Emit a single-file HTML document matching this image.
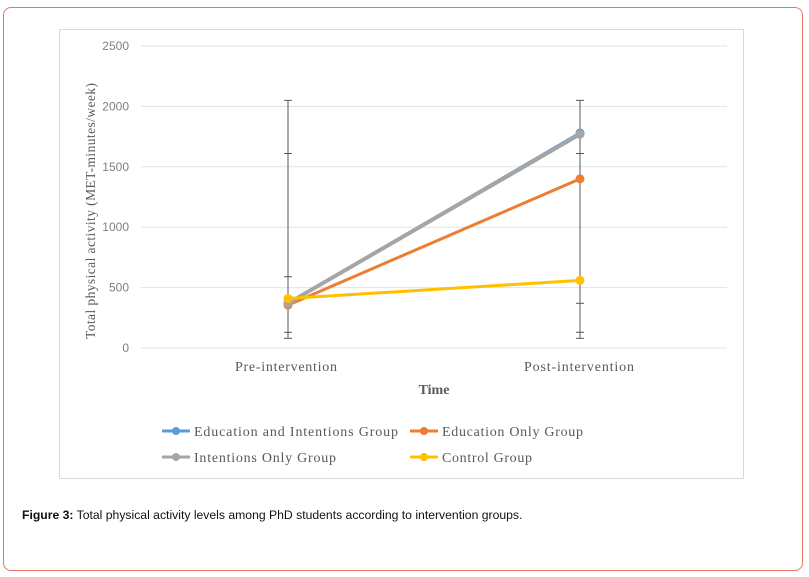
<!DOCTYPE html>
<html><head><meta charset="utf-8"><style>
body{margin:0;background:#fff;width:809px;height:577px;overflow:hidden;font-family:"Liberation Sans",sans-serif}
#outer{position:absolute;left:3px;top:7px;width:800px;height:564px;border:1px solid #e8756a;border-radius:8px;box-sizing:border-box}
#cap{position:absolute;left:22px;top:508px;font-size:12.2px;color:#111}
</style></head><body>
<div id="outer"></div>
<svg width="809" height="577" style="position:absolute;left:0;top:0">
<rect x="59.5" y="29.5" width="684" height="449" fill="#fff" stroke="#d9d9d9"/>
<g id="grid"></g><g id="err"></g><g id="series"></g>
<text x="0" y="0" transform="translate(95,211) rotate(-90)" text-anchor="middle" font-family="Liberation Serif,serif" font-size="13.5" fill="#595959" textLength="256" lengthAdjust="spacing">Total physical activity (MET-minutes/week)</text>
<text x="434" y="394" text-anchor="middle" font-family="Liberation Serif,serif" font-size="14" font-weight="bold" fill="#595959">Time</text>
<g id="legend" font-family="Liberation Serif,serif" font-size="14" fill="#595959"></g>
</svg>
<div id="cap"><b>Figure 3:</b> Total physical activity levels among PhD students according to intervention groups.</div>
<script>
const categories=["Pre-intervention","Post-intervention"];
const yTicks=[0,500,1000,1500,2000,2500];
const eduIntent=[370,1780];
const eduOnly=[355,1400];
const intentOnly=[370,1770];
const control=[410,560];
const errTop=[2050,2050];
const errBottom=[80,80];
const errTicksPre=[1610,590,130];
const errTicksPost=[1610,370,130];
const names=["Education and Intentions Group","Education Only Group","Intentions Only Group","Control Group"];
const colors=["#5b9bd5","#ed7d31","#a5a5a5","#ffc000"];
const NS="http://www.w3.org/2000/svg";
const y=v=>348-v*(302/2500);
const x=i=>288+i*292;
function mk(t,a,p){const e=document.createElementNS(NS,t);for(const k in a)e.setAttribute(k,a[k]);p.appendChild(e);return e;}
const g=document.getElementById('grid');
yTicks.forEach(v=>{
 const l=mk('line',{x1:141,x2:727,y1:y(v),y2:y(v),stroke:'#e3e3e3','stroke-width':1},g);
 
 
 const t=mk('text',{x:129,y:y(v)+4,'text-anchor':'end','font-size':12,fill:'#7f7f7f'},g);
 t.textContent=v;
 
 
});
categories.forEach((c,i)=>{
 const t=mk('text',{x:x(i)-(i?1:2),y:371,'text-anchor':'middle','font-size':14,fill:'#595959','font-family':'Liberation Serif,serif',textLength:(i?110:102),lengthAdjust:'spacing'},g);
 t.textContent=c;
 
 
});
const eg=document.getElementById('err');
[errTicksPre,errTicksPost].forEach((tk,i)=>{
 const l=mk('line',{x1:x(i),x2:x(i),y1:y(errTop[i]),y2:y(errBottom[i]),stroke:'#595959','stroke-width':1},eg);
 
 
 [errTop[i],errBottom[i]].concat(tk).forEach(v=>{
  const c=mk('line',{x1:x(i)-4,x2:x(i)+4,y1:y(v),y2:y(v),stroke:'#595959','stroke-width':1},eg);
  
  
 });
});
const sg=document.getElementById('series');
const data=[eduIntent,eduOnly,intentOnly,control];
const widths=[3,3,4,3];
data.forEach((d,s)=>{
 const pl=mk('polyline',{points:d.map((v,i)=>x(i)+','+y(v)).join(' '),fill:'none',stroke:colors[s],'stroke-width':widths[s]},sg);
 
 
 d.forEach((v,i)=>{
  const c=mk('circle',{cx:x(i),cy:y(v),r:4.5,fill:colors[s]},sg);
  
  
 });
});
const lg=document.getElementById('legend');
const lpos=[[162,431],[410,431],[162,457],[410,457]];
const lw=[204,141,142,90];
names.forEach((n,s)=>{
 const [lx,ly]=lpos[s];
 const l=mk('line',{x1:lx,x2:lx+28,y1:ly,y2:ly,stroke:colors[s],'stroke-width':3},lg);
 
 
 const c=mk('circle',{cx:lx+14,cy:ly,r:4,fill:colors[s]},lg);
 
 
 const t=mk('text',{x:lx+32,y:ly+5,textLength:lw[s],lengthAdjust:'spacing'},lg);
 t.textContent=n;
 
 
});
</script>
</body></html>
